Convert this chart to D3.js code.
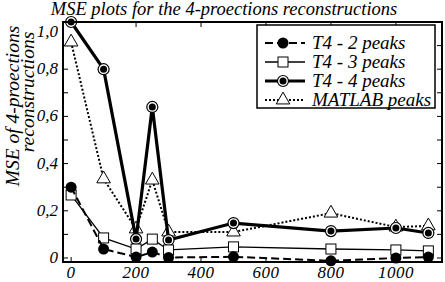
<!DOCTYPE html>
<html>
<head>
<meta charset="utf-8">
<script src="https://cdn.jsdelivr.net/npm/d3@7"></script>
<style>
  body { margin: 0; background: #fff; }
  text { font-family: "Liberation Serif", "DejaVu Serif", serif; font-style: italic; fill: #000; }
</style>
</head>
<body>
<div id="chart"></div>
<script>
const xs = [0, 100, 200, 250, 300, 500, 800, 1000, 1100];
const peaks2 = [0.30, 0.038, 0.004, 0.025, 0.002, 0.005, -0.012, 0.0, 0.004];
const peaks3 = [0.267, 0.085, 0.038, 0.08, 0.034, 0.047, 0.038, 0.034, 0.03];
const peaks4 = [1.0, 0.80, 0.08, 0.64, 0.076, 0.148, 0.114, 0.127, 0.106];
const matlab = [0.915, 0.335, 0.123, 0.33, 0.11, 0.11, 0.19, 0.131, 0.136];
const xTicks = [0, 200, 400, 600, 800, 1000];
const yTicks = [0, 0.2, 0.4, 0.6, 0.8, 1.0];
const seriesNames = ["T4 - 2 peaks", "T4 - 3 peaks", "T4 - 4 peaks", "MATLAB peaks"];

const width = 445, height = 282,
  margin = {top: 22, right: 3, bottom: 20, left: 63};

const svg = d3.select("#chart")
  .append("svg")
  .attr("width", width)
  .attr("height", height);

const x = d3.scaleLinear([-25, 1142], [margin.left, width - margin.right]);
const y = d3.scaleLinear([-0.017, 1.0], [height - margin.bottom, margin.top]);

const styles = [
  {data: peaks2, width: 2, dash: "8,4", marker: "dot"},
  {data: peaks3, width: 1.3, dash: null, marker: "square"},
  {data: peaks4, width: 3.2, dash: null, marker: "ring"},
  {data: matlab, width: 2, dash: "2,2", marker: "triangle"}
];

// ticks, inward on all four sides
const tickLen = 5;
const yMinor = d3.range(0, 1.01, 0.1);
const ticks = svg.append("g").attr("stroke", "#000").attr("stroke-width", 1);
yMinor.forEach(v => {
  ticks.append("line").attr("x1", x.range()[0]).attr("x2", x.range()[0] + tickLen).attr("y1", y(v)).attr("y2", y(v));
  ticks.append("line").attr("x1", x.range()[1]).attr("x2", x.range()[1] - tickLen).attr("y1", y(v)).attr("y2", y(v));
});
xTicks.forEach(v => {
  ticks.append("line").attr("x1", x(v)).attr("x2", x(v)).attr("y1", y.range()[0]).attr("y2", y.range()[0] - tickLen);
  ticks.append("line").attr("x1", x(v)).attr("x2", x(v)).attr("y1", y.range()[1]).attr("y2", y.range()[1] + tickLen);
});

// tick labels
svg.append("g").selectAll("text")
  .data(yTicks)
  .join("text")
  .attr("x", margin.left - 5)
  .attr("y", d => d === 1.0 ? y(d) + 15 : y(d) + 5)
  .attr("text-anchor", "end")
  .attr("font-size", 17)
  .text(d => d === 0 ? "0" : d3.format(".1f")(d).replace(".", ","));

svg.append("g").selectAll("text")
  .data(xTicks)
  .join("text")
  .attr("x", d => x(d))
  .attr("y", 278)
  .attr("text-anchor", "middle")
  .attr("font-size", 17)
  .attr("letter-spacing", 0.5)
  .text(d => d);

// series
const line = d3.line().x((d, i) => x(xs[i])).y(d => y(d));

function drawMarker(g, type, cx, cy) {
  if (type === "dot") {
    g.append("circle").attr("cx", cx).attr("cy", cy).attr("r", 5.5).attr("fill", "#000");
  } else if (type === "square") {
    g.append("rect").attr("x", cx - 5).attr("y", cy - 5).attr("width", 10).attr("height", 10)
      .attr("fill", "#fff").attr("stroke", "#000").attr("stroke-width", 1);
  } else if (type === "ring") {
    g.append("circle").attr("cx", cx).attr("cy", cy).attr("r", 5.5)
      .attr("fill", "#fff").attr("stroke", "#000").attr("stroke-width", 1.2);
    g.append("circle").attr("cx", cx).attr("cy", cy).attr("r", 3.5).attr("fill", "#000");
  } else {
    g.append("path").attr("transform", `translate(${cx},${cy})`)
      .attr("d", d3.symbol(d3.symbolTriangle, 80)())
      .attr("fill", "#fff").attr("stroke", "#000").attr("stroke-width", 1);
  }
}

[3, 2, 1, 0].forEach(k => {
  const s = styles[k];
  const g = svg.append("g");
  g.append("path")
    .attr("d", line(s.data))
    .attr("fill", "none")
    .attr("stroke", "#000")
    .attr("stroke-width", s.width)
    .attr("stroke-dasharray", s.dash);
  s.data.forEach((v, i) => drawMarker(g, s.marker, x(xs[i]), y(v)));
});

// frame
svg.append("rect")
  .attr("x", x.range()[0]).attr("y", y.range()[1])
  .attr("width", x.range()[1] - x.range()[0])
  .attr("height", y.range()[0] - y.range()[1])
  .attr("fill", "none").attr("stroke", "#000").attr("stroke-width", 2);

// legend
const lg = svg.append("g").attr("transform", "translate(257,25)");
lg.append("rect").attr("width", 178).attr("height", 83)
  .attr("fill", "#fff").attr("stroke", "#000").attr("stroke-width", 1.5);
seriesNames.forEach((name, i) => {
  const s = styles[i];
  const ly = 18 + i * 19;
  const row = lg.append("g");
  row.append("line").attr("x1", 8).attr("x2", 48).attr("y1", ly).attr("y2", ly)
    .attr("stroke", "#000").attr("stroke-width", s.width).attr("stroke-dasharray", s.dash);
  drawMarker(row, s.marker, 26, ly);
  row.append("text").attr("x", 55).attr("y", ly + 6).attr("font-size", 19).text(name);
});

// title
svg.append("text")
  .attr("x", 224).attr("y", 15)
  .attr("text-anchor", "middle")
  .attr("font-size", 18.5)
  .text("MSE plots for the 4-proections reconstructions");

// y label
const yl = svg.append("text")
  .attr("transform", "translate(0,106) rotate(-90)")
  .attr("text-anchor", "middle")
  .attr("font-size", 19.5);
yl.append("tspan").attr("x", 0).attr("y", 19).text("MSE of 4-proections");
yl.append("tspan").attr("x", 14).attr("y", 34).text("reconstructions");
</script>
</body>
</html>
